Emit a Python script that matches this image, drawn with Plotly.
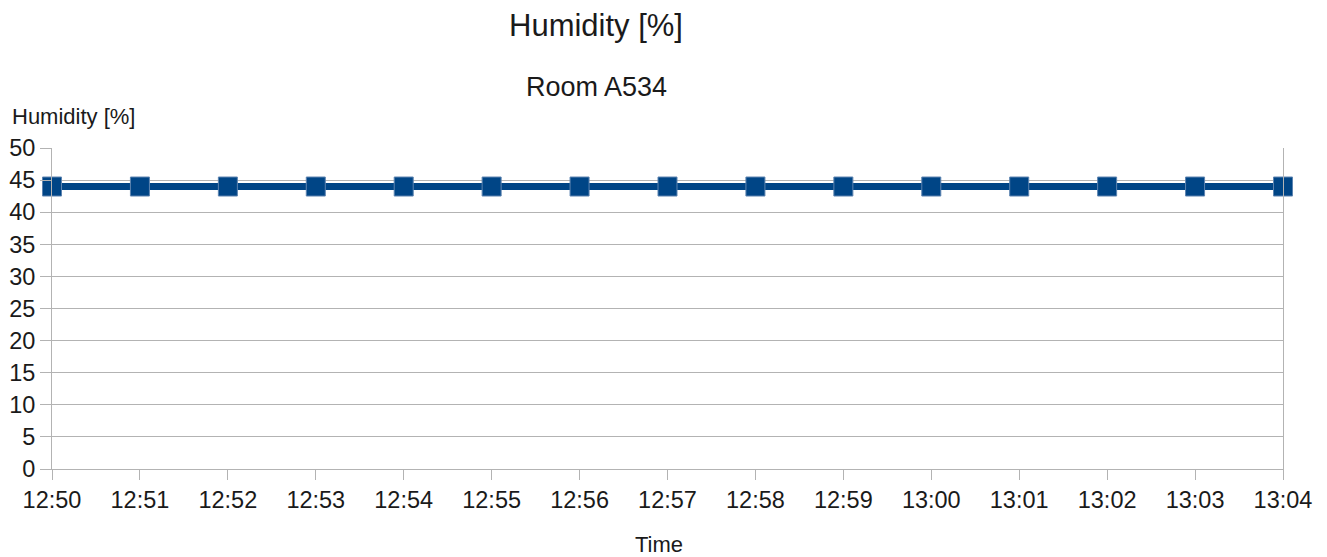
import plotly.graph_objects as go

times = ["12:50", "12:51", "12:52", "12:53", "12:54", "12:55", "12:56", "12:57",
         "12:58", "12:59", "13:00", "13:01", "13:02", "13:03", "13:04"]
humidity = [44, 44, 44, 44, 44, 44, 44, 44, 44, 44, 44, 44, 44, 44, 44]
y_ticks = [0, 5, 10, 15, 20, 25, 30, 35, 40, 45, 50]

OFF = 8  # page offset of the figure inside the browser window
W, H = 1327 - OFF, 557 - OFF
L, R, T, B = 52 - OFF, 44, 148 - OFF, 88
pw, ph = W - L - R, H - T - B

def px(x):
    return (x - OFF - L) / pw

def py(y):
    return (H - B - (y - OFF)) / ph

FONT = "Liberation Sans, Arial, sans-serif"
TXT = "#1a1a1a"
GRID = "#b3b3b3"

fig = go.Figure()
fig.add_trace(go.Scatter(
    x=times, y=humidity, mode="lines+markers",
    line=dict(color="#004586", width=7),
    marker=dict(symbol="square", size=19, color="#004586",
                line=dict(color="#5d84b0", width=1)),
    cliponaxis=False, showlegend=False,
))

fig.update_layout(
    width=W, height=H,
    margin=dict(l=L, r=R, t=T, b=B),
    paper_bgcolor="white", plot_bgcolor="white",
    font=dict(family=FONT, color=TXT, size=23),
    xaxis=dict(type="category", range=[0, len(times) - 1], automargin=False,
               showgrid=False, showline=True, linecolor=GRID, linewidth=1,
               ticks="outside", ticklen=10, tickcolor=GRID,
               tickfont=dict(size=23.5, color=TXT), zeroline=False),
    yaxis=dict(range=[0, 50], tickvals=y_ticks, automargin=False,
               showgrid=True, gridcolor=GRID,
               gridwidth=1, showline=True, mirror=True, linecolor=GRID, linewidth=1,
               ticks="outside", ticklen=11, tickcolor=GRID,
               tickfont=dict(size=23.5, color=TXT), zeroline=False),
    annotations=[
        dict(text="Humidity [%]", x=px(596), y=py(25), xref="paper", yref="paper",
             showarrow=False, xanchor="center", yanchor="middle",
             font=dict(size=31, color=TXT, family=FONT)),
        dict(text="Room A534", x=px(596), y=py(87), xref="paper", yref="paper",
             showarrow=False, xanchor="center", yanchor="middle",
             font=dict(size=27, color=TXT, family=FONT)),
        dict(text="Humidity [%]", x=px(10), y=py(116), xref="paper", yref="paper",
             showarrow=False, xanchor="left", yanchor="middle",
             font=dict(size=22, color=TXT, family=FONT)),
        dict(text="Time", x=px(659), y=py(544), xref="paper", yref="paper",
             showarrow=False, xanchor="center", yanchor="middle",
             font=dict(size=22, color=TXT, family=FONT)),
    ],
)

fig.write_html("out.html")
